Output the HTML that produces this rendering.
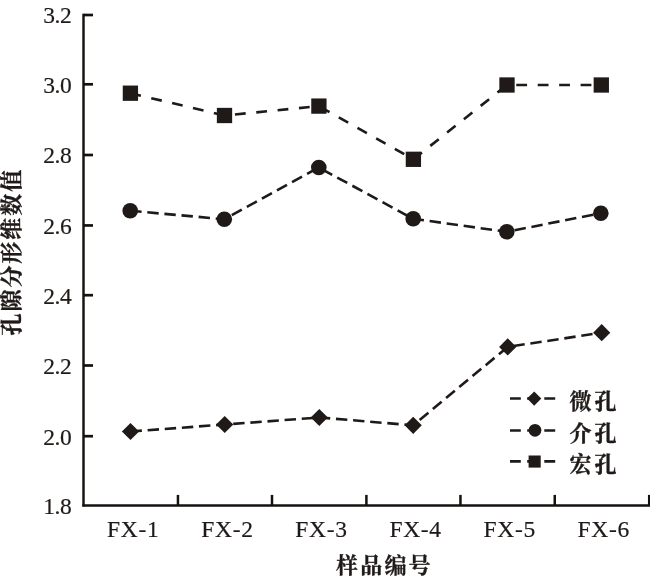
<!DOCTYPE html>
<html lang="zh">
<head>
<meta charset="utf-8">
<title>孔隙分形维数值</title>
<style>
html,body{margin:0;padding:0;background:#fff;}
body{width:650px;height:583px;overflow:hidden;}
svg{display:block;}
text{fill:#1f1a17;}
.num{font-family:"Liberation Serif","Noto Serif CJK SC",serif;font-size:23.5px;stroke:#1f1a17;stroke-width:0.2px;}
.cjk{font-family:"Liberation Serif","Noto Serif CJK SC",serif;font-size:22px;font-weight:700;stroke:#1f1a17;stroke-width:0.35px;}
</style>
</head>
<body>
<svg width="650" height="583" viewBox="0 0 650 583">
<rect width="650" height="583" fill="#ffffff"/>
<g stroke="#15110f" stroke-width="2.45" fill="none" stroke-linecap="butt">
<path d="M83.5,13.85 V506.55"/>
<path d="M82.35,505.4 H650"/>
<path d="M83.5,15.00 H93" stroke-width="2.7"/>
<path d="M83.5,84.30 H93" stroke-width="2.7"/>
<path d="M83.5,155.00 H93" stroke-width="2.7"/>
<path d="M83.5,225.45 H93" stroke-width="2.7"/>
<path d="M83.5,295.20 H93" stroke-width="2.7"/>
<path d="M83.5,365.50 H93" stroke-width="2.7"/>
<path d="M83.5,436.20 H93" stroke-width="2.7"/>
<path d="M177.95,505.4 V494.9" stroke-width="2.5"/>
<path d="M272.00,505.4 V494.9" stroke-width="2.5"/>
<path d="M366.40,505.4 V494.9" stroke-width="2.5"/>
<path d="M460.45,505.4 V494.9" stroke-width="2.5"/>
<path d="M554.75,505.4 V494.9" stroke-width="2.5"/>
<path d="M649.20,505.4 V494.9" stroke-width="2.5"/>
</g>
<text class="num" x="71.4" y="23.40" text-anchor="end" letter-spacing="-0.4">3.2</text>
<text class="num" x="71.4" y="92.70" text-anchor="end" letter-spacing="-0.4">3.0</text>
<text class="num" x="71.4" y="163.40" text-anchor="end" letter-spacing="-0.4">2.8</text>
<text class="num" x="71.4" y="233.85" text-anchor="end" letter-spacing="-0.4">2.6</text>
<text class="num" x="71.4" y="303.60" text-anchor="end" letter-spacing="-0.4">2.4</text>
<text class="num" x="71.4" y="373.90" text-anchor="end" letter-spacing="-0.4">2.2</text>
<text class="num" x="71.4" y="444.60" text-anchor="end" letter-spacing="-0.4">2.0</text>
<text class="num" x="71.4" y="513.80" text-anchor="end" letter-spacing="-0.4">1.8</text>
<text class="num" x="133.30" y="536.6" text-anchor="middle" letter-spacing="0.7">FX-1</text>
<text class="num" x="227.40" y="536.6" text-anchor="middle" letter-spacing="0.7">FX-2</text>
<text class="num" x="321.50" y="536.6" text-anchor="middle" letter-spacing="0.7">FX-3</text>
<text class="num" x="415.60" y="536.6" text-anchor="middle" letter-spacing="0.7">FX-4</text>
<text class="num" x="509.70" y="536.6" text-anchor="middle" letter-spacing="0.7">FX-5</text>
<text class="num" x="603.80" y="536.6" text-anchor="middle" letter-spacing="0.7">FX-6</text>
<text class="cjk" x="384.4" y="573.2" text-anchor="middle" letter-spacing="2.2">样品编号</text>
<text class="cjk" transform="translate(19.2,251.7) rotate(-90)" text-anchor="middle" letter-spacing="1.93">孔隙分形维数值</text>
<g fill="none" stroke="#1f1a17" stroke-width="2.6">
<polyline points="130.4,93.2 224.5,115.5 318.9,106.1 413.4,159.3 507.0,85.0 601.3,85.0" stroke-dasharray="10.8 10.64"/>
<polyline points="130.2,210.8 224.3,219.2 318.8,167.5 413.2,218.8 506.8,231.8 600.8,213.2" stroke-dasharray="11.4 5.77"/>
<polyline points="130.5,431.5 224.7,424.5 319.3,417.5 413.2,425.3 507.7,346.9 601.7,332.7" stroke-dasharray="11.4 5.77"/>
</g>
<g fill="#1f1a17">
<rect x="122.75" y="85.55" width="15.3" height="15.3"/>
<rect x="216.85" y="107.85" width="15.3" height="15.3"/>
<rect x="311.25" y="98.45" width="15.3" height="15.3"/>
<rect x="405.75" y="151.65" width="15.3" height="15.3"/>
<rect x="499.35" y="77.35" width="15.3" height="15.3"/>
<rect x="593.65" y="77.35" width="15.3" height="15.3"/>
<circle cx="130.2" cy="210.8" r="7.8"/>
<circle cx="224.3" cy="219.2" r="7.8"/>
<circle cx="318.8" cy="167.5" r="7.8"/>
<circle cx="413.2" cy="218.8" r="7.8"/>
<circle cx="506.8" cy="231.8" r="7.8"/>
<circle cx="600.8" cy="213.2" r="7.8"/>
<path d="M121.90,431.5 L130.5,422.90 L139.10,431.5 L130.5,440.10 Z"/>
<path d="M216.10,424.5 L224.7,415.90 L233.30,424.5 L224.7,433.10 Z"/>
<path d="M310.70,417.5 L319.3,408.90 L327.90,417.5 L319.3,426.10 Z"/>
<path d="M404.60,425.3 L413.2,416.70 L421.80,425.3 L413.2,433.90 Z"/>
<path d="M499.10,346.9 L507.7,338.30 L516.30,346.9 L507.7,355.50 Z"/>
<path d="M593.10,332.7 L601.7,324.10 L610.30,332.7 L601.7,341.30 Z"/>
</g>
<g stroke="#1f1a17" stroke-width="2.6" fill="none">
<path d="M510,398.5 H520.8 M527.2,398.5 H538.5 M544.3,398.5 H555.2"/>
<path d="M510,430.45 H520.8 M527.2,430.45 H538.5 M544.3,430.45 H555.2"/>
<path d="M510,461.4 H520.8 M527.2,461.4 H538.5 M544.3,461.4 H555.2"/>
</g>
<g fill="#1f1a17">
<path d="M527.1,398.6 L534.2,391.5 L541.3,398.6 L534.2,405.7 Z"/>
<circle cx="535" cy="430.35" r="6.35"/>
<rect x="528.6" y="455.5" width="12.1" height="12.1"/>
</g>
<text class="cjk" x="569.6" y="409.2" letter-spacing="2.9">微孔</text>
<text class="cjk" x="569.6" y="440.7" letter-spacing="2.9">介孔</text>
<text class="cjk" x="569.6" y="472.1" letter-spacing="2.9">宏孔</text>
</svg>
</body>
</html>
